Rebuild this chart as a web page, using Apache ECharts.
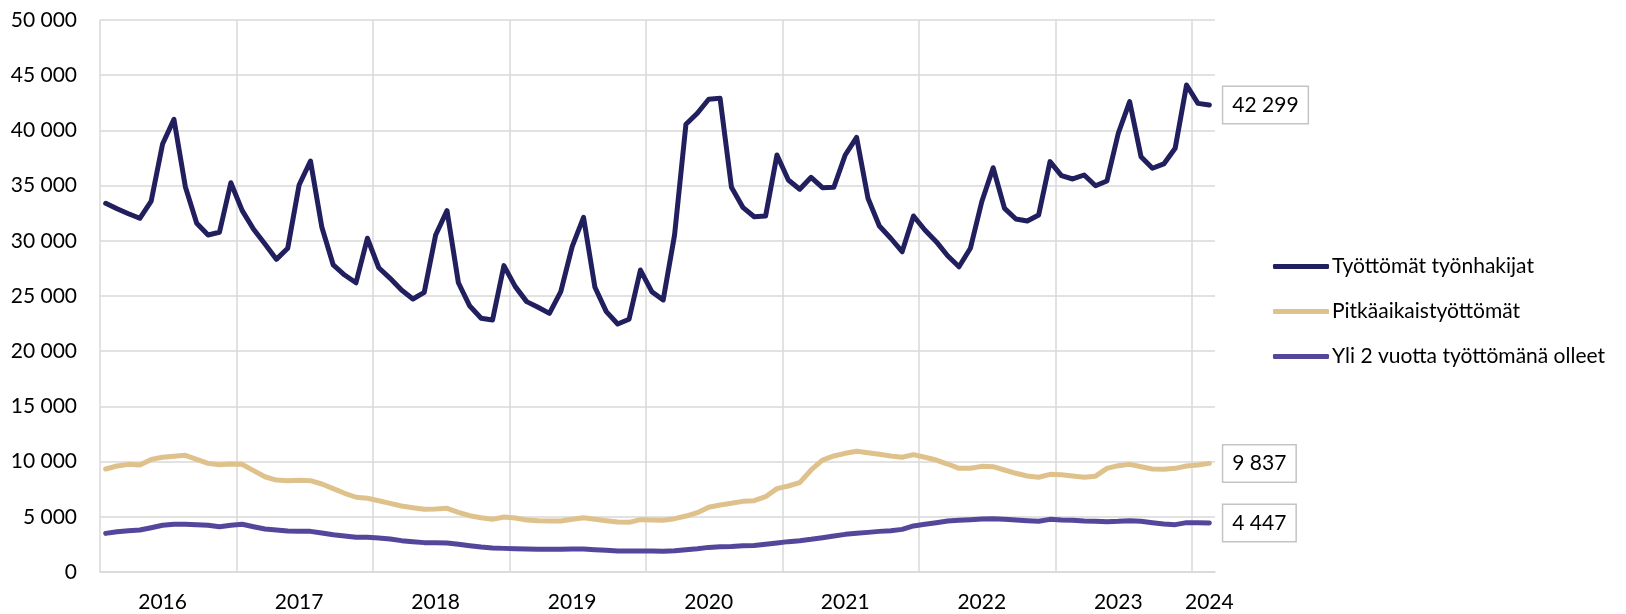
<!DOCTYPE html>
<html lang="fi">
<head>
<meta charset="utf-8">
<script src="https://cdn.jsdelivr.net/npm/echarts@6/dist/echarts.min.js"></script>
<style>
  html, body { margin: 0; padding: 0; background: #fff; }
  #main { width: 1626px; height: 614px; }
</style>
</head>
<body>
<div id="main"></div>
<script type="text/javascript">
  // kuukaudet 1/2016 - 2/2024
  var startYear = 2016;
  var monthCount = 98;
  var months = [];
  for (var m = 0; m < monthCount; m++) {
    months.push((startYear + Math.floor(m / 12)) + '-' + ('0' + (m % 12 + 1)).slice(-2));
  }

  // vuosilabelit ja niiden paikat (kuukausi-indeksi)
  var yearLabels = ['2016', '2017', '2018', '2019', '2020', '2021', '2022', '2023', '2024'];
  var yearLabelIndex = [5, 17, 29, 41, 53, 65, 77, 89, 97];

  var seriesNames = ['Työttömät työnhakijat', 'Pitkäaikaistyöttömät', 'Yli 2 vuotta työttömänä olleet'];
  var seriesColors = ['#211f5e', '#dfc18c', '#52479b'];

  var tyottomat = [
    33400, 32900, 32450, 32040, 33600, 38770, 41000, 34900, 31590, 30530, 30770, 35260,
    32730, 31040, 29710, 28320, 29320, 35050, 37230, 31220, 27810, 26900, 26200, 30230,
    27560, 26600, 25540, 24730, 25330, 30530, 32730, 26200, 24090, 22980, 22830, 27750,
    25850, 24490, 23980, 23430, 25390, 29470, 32130, 25790, 23580, 22460, 22890, 27350,
    25390, 24640, 30530, 40550, 41550, 42820, 42910, 34850, 33030, 32180, 32250, 37770,
    35510, 34670, 35750, 34810, 34850, 37770, 39370, 33850, 31340, 30230, 29010, 32250,
    30980, 29920, 28650, 27650, 29320, 33540, 36620, 32940, 31970, 31790, 32340, 37170,
    35900, 35600, 35960, 34990, 35420, 39740, 42600, 37620, 36570, 36960, 38380, 44110,
    42450, 42299
  ];

  var pitkaaikais = [
    9330, 9600, 9750, 9690, 10200, 10390, 10480, 10570, 10200, 9840, 9720, 9780,
    9750, 9180, 8630, 8330, 8270, 8300, 8270, 7970, 7550, 7130, 6770, 6680,
    6460, 6220, 5980, 5820, 5680, 5710, 5770, 5410, 5100, 4920, 4770, 4980,
    4890, 4710, 4650, 4620, 4620, 4770, 4920, 4770, 4650, 4530, 4500, 4740,
    4710, 4680, 4830, 5070, 5370, 5860, 6070, 6220, 6400, 6460, 6820, 7550,
    7790, 8090, 9240, 10140, 10510, 10750, 10930, 10810, 10660, 10510, 10390, 10630,
    10390, 10140, 9780, 9390, 9390, 9570, 9540, 9240, 8940, 8700, 8580, 8850,
    8810, 8700, 8580, 8680, 9390, 9630, 9750, 9540, 9330, 9300, 9390, 9600,
    9690, 9837
  ];

  var yli2v = [
    3500, 3650, 3740, 3800, 4010, 4230, 4320, 4320, 4290, 4230, 4100, 4230,
    4320, 4100, 3890, 3800, 3710, 3680, 3680, 3530, 3380, 3260, 3140, 3140,
    3080, 2990, 2840, 2750, 2660, 2660, 2630, 2510, 2380, 2260, 2170, 2140,
    2110, 2080, 2050, 2050, 2050, 2080, 2080, 2020, 1960, 1900, 1900, 1900,
    1900, 1870, 1930, 2020, 2110, 2230, 2290, 2320, 2380, 2410, 2510, 2630,
    2750, 2840, 2960, 3110, 3260, 3410, 3500, 3590, 3680, 3740, 3860, 4170,
    4320, 4470, 4620, 4680, 4740, 4800, 4830, 4770, 4710, 4650, 4590, 4770,
    4710, 4680, 4620, 4590, 4560, 4590, 4650, 4590, 4470, 4350, 4290, 4470,
    4470, 4447
  ];

  var fontFamily = 'Lato, "Open Sans", sans-serif';

  function fmt(v) {
    return String(v).replace(/\B(?=(\d{3})+(?!\d))/g, ' ');
  }

  function buildSeries(name, data, color) {
    return {
      name: name,
      type: 'line',
      data: data,
      showSymbol: false,
      symbol: 'none',
      lineStyle: { color: color, width: 5, join: 'round', cap: 'round' },
      itemStyle: { color: color },
      // viimeisen arvon laatikko
      endLabel: {
        show: true,
        formatter: function (p) { return fmt(p.value); },
        fontFamily: fontFamily,
        fontSize: 21,
        lineHeight: 21,
        color: '#000',
        backgroundColor: '#fff',
        borderColor: '#c4c4c4',
        borderWidth: 1.5,
        padding: [8, 9, 7, 9],
        distance: 14
      }
    };
  }

  var chart = echarts.init(document.getElementById('main'));

  var option = {
    animation: false,
    backgroundColor: '#fff',
    textStyle: { fontFamily: fontFamily },
    grid: { left: 100, right: 411, top: 20, bottom: 42, containLabel: false },
    legend: {
      orient: 'vertical',
      left: 1273,
      top: 256,
      padding: 0,
      itemGap: 24,
      itemWidth: 56,
      itemHeight: 5,
      icon: 'roundRect',
      textStyle: { fontFamily: fontFamily, fontSize: 21, lineHeight: 21, color: '#000', padding: [0, 0, 0, -2] },
      data: seriesNames
    },
    xAxis: {
      type: 'category',
      data: months,
      boundaryGap: true,
      axisLine: { show: true, lineStyle: { color: '#d9d9d9', width: 1.5 } },
      axisTick: { show: false, interval: 11 },
      splitLine: {
        show: true,
        interval: 11,
        showMinLine: true,
        showMaxLine: false,
        lineStyle: { color: '#d9d9d9', width: 1.5 }
      },
      axisLabel: {
        interval: function (index) { return yearLabelIndex.indexOf(index) >= 0; },
        formatter: function (value, index) {
          var k = yearLabelIndex.indexOf(index);
          return k >= 0 ? yearLabels[k] : '';
        },
        fontFamily: fontFamily,
        fontSize: 21,
        color: '#000',
        margin: 20
      }
    },
    yAxis: {
      type: 'value',
      min: 0,
      max: 50000,
      interval: 5000,
      axisLine: { show: false },
      axisTick: { show: false },
      splitLine: { show: true, lineStyle: { color: '#d9d9d9', width: 1.5 } },
      axisLabel: {
        formatter: function (v) { return fmt(v); },
        fontFamily: fontFamily,
        fontSize: 21,
        color: '#000',
        margin: 23
      }
    },
    series: [
      buildSeries(seriesNames[0], tyottomat, seriesColors[0]),
      buildSeries(seriesNames[1], pitkaaikais, seriesColors[1]),
      buildSeries(seriesNames[2], yli2v, seriesColors[2])
    ]
  };

  chart.setOption(option);
</script>
</body>
</html>
